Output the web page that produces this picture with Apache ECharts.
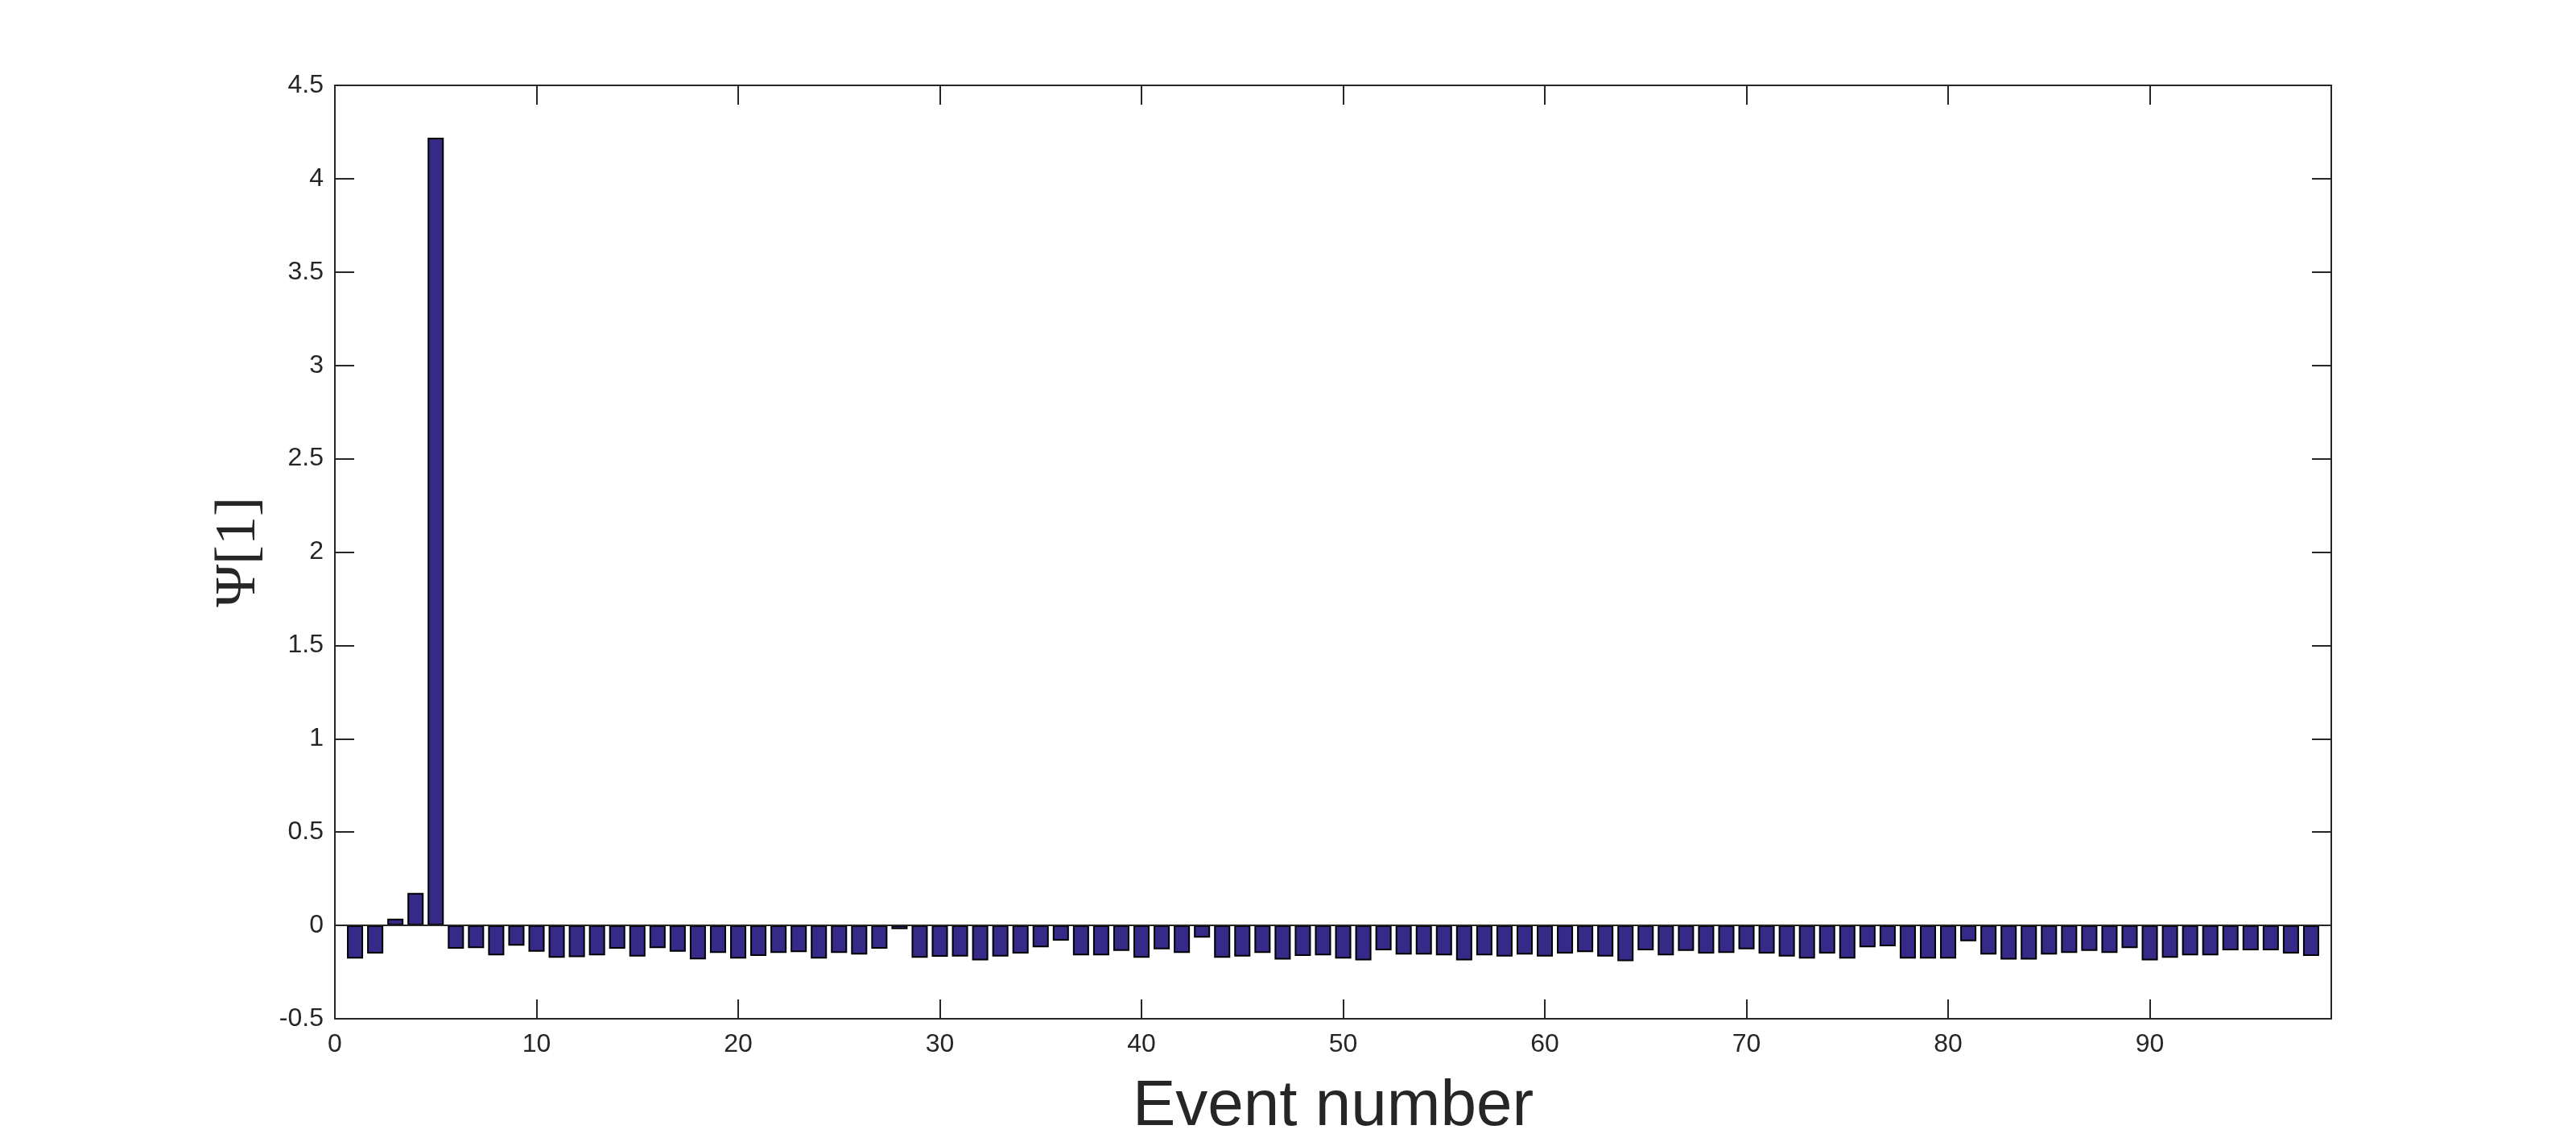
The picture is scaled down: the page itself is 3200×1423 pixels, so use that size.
<!DOCTYPE html>
<html>
<head>
<meta charset="utf-8">
<script src="https://cdn.jsdelivr.net/npm/echarts@6/dist/echarts.min.js"></script>
<style>
  html, body { margin: 0; padding: 0; background: #fff; }
  #chart { width: 3200px; height: 1423px; }
</style>
</head>
<body>
<div id="chart"></div>
<script>
// event numbers 1..98
var events = [];
for (var i = 1; i <= 98; i++) events.push(i);

// Ψ[1] values
var psiValues = [
  -0.177, -0.151, 0.036, 0.174, 4.22, -0.125, -0.121, -0.160, -0.108, -0.141,
  -0.173, -0.170, -0.160, -0.125, -0.167, -0.121, -0.141, -0.182, -0.147, -0.177,
  -0.164, -0.147, -0.143, -0.177, -0.147, -0.156, -0.125, -0.020, -0.173, -0.168,
  -0.167, -0.187, -0.167, -0.151, -0.117, -0.082, -0.160, -0.160, -0.137, -0.173,
  -0.128, -0.147, -0.065, -0.173, -0.167, -0.147, -0.183, -0.164, -0.160, -0.177,
  -0.187, -0.133, -0.156, -0.156, -0.160, -0.187, -0.160, -0.167, -0.156, -0.167,
  -0.151, -0.143, -0.167, -0.192, -0.133, -0.160, -0.137, -0.151, -0.147, -0.128,
  -0.151, -0.167, -0.177, -0.151, -0.177, -0.117, -0.112, -0.177, -0.177, -0.177,
  -0.085, -0.156, -0.183, -0.183, -0.156, -0.147, -0.137, -0.147, -0.121, -0.187,
  -0.173, -0.160, -0.160, -0.133, -0.133, -0.133, -0.151, -0.164
];

var xTicks = { min: 0, max: 99, interval: 10 };
var yTicks = { min: -0.5, max: 4.5, interval: 0.5 };

var axisColor = '#262626';
var labelFont = { fontFamily: 'Liberation Sans', fontSize: 32, color: axisColor };

var barData = events.map(function (e, idx) { return [e, psiValues[idx]]; });

var myChart = echarts.init(document.getElementById('chart'));

// one side of the box: line + inward ticks, no labels unless asked
function boxAxis(extra) {
  return Object.assign({
    type: 'value',
    axisLine: { show: true, onZero: false, lineStyle: { color: axisColor, width: 2 } },
    axisTick: { show: true, inside: true, length: 24, lineStyle: { color: axisColor, width: 2 } },
    axisLabel: { show: false },
    splitLine: { show: false }
  }, extra);
}

var option = {
  animation: false,
  backgroundColor: '#ffffff',
  grid: { left: 416, right: 304, top: 106, bottom: 158, containLabel: false },
  xAxis: [
    boxAxis({
      position: 'bottom',
      min: xTicks.min, max: xTicks.max, interval: xTicks.interval,
      axisLabel: Object.assign({ show: true, margin: 16, showMaxLabel: false }, labelFont),
      name: 'Event number',
      nameLocation: 'middle',
      nameGap: 70,
      nameTextStyle: { fontFamily: 'Liberation Sans', fontSize: 80, color: axisColor }
    }),
    boxAxis({
      position: 'top',
      min: xTicks.min, max: xTicks.max, interval: xTicks.interval
    })
  ],
  yAxis: [
    boxAxis({
      position: 'left',
      min: yTicks.min, max: yTicks.max, interval: yTicks.interval,
      axisLabel: Object.assign({ show: true, margin: 14 }, labelFont),
      name: 'Ψ[1]',
      nameLocation: 'middle',
      nameRotate: 90,
      nameGap: 83,
      nameTextStyle: { fontFamily: 'Liberation Serif', fontSize: 72, color: axisColor }
    }),
    boxAxis({
      position: 'right',
      min: yTicks.min, max: yTicks.max, interval: yTicks.interval
    })
  ],
  series: [{
    type: 'bar',
    xAxisIndex: 0,
    yAxisIndex: 0,
    data: barData,
    barWidth: '80%',
    itemStyle: { color: '#352a87', borderColor: '#000000', borderWidth: 2 },
    markLine: {
      silent: true,
      symbol: 'none',
      label: { show: false },
      lineStyle: { color: axisColor, width: 2, type: 'solid' },
      data: [{ yAxis: 0 }]
    }
  }]
};

myChart.setOption(option);
</script>
</body>
</html>
